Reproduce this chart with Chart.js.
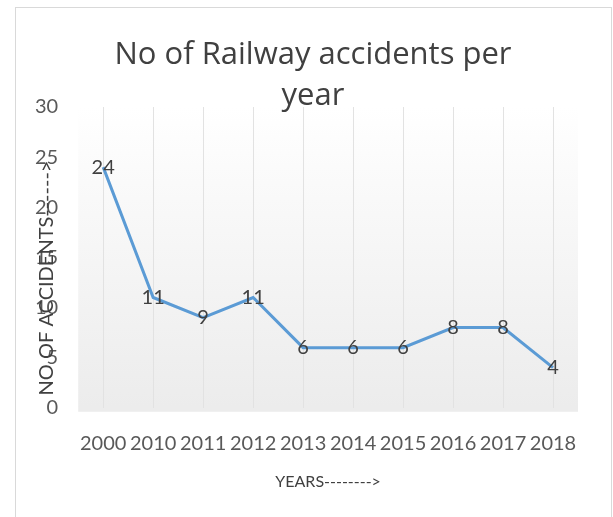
<!DOCTYPE html>
<html>
<head>
<meta charset="utf-8">
<script src="https://cdn.jsdelivr.net/npm/chart.js@4.4.1/dist/chart.umd.min.js"></script>
<style>
  html, body { margin: 0; padding: 0; background: #ffffff; }
  #wrap { width: 613px; height: 517px; }
</style>
</head>
<body>
<div id="wrap"><canvas id="accChart" width="613" height="517"></canvas></div>
<script>
// chart data
const years = ['2000', '2010', '2011', '2012', '2013', '2014', '2015', '2016', '2017', '2018'];
const accidents = [24, 11, 9, 11, 6, 6, 6, 8, 8, 4];
const yMin = 0;
const yMax = 30;
const yStep = 5;
const titleLines = ['No of Railway accidents per', 'year'];

const textColor = '#404040';
const fontFamily = 'Lato, "Open Sans", sans-serif';
const titleFont = '"Open Sans", Lato, sans-serif';

// plot background gradient + outer frame
const backdrop = {
    id: 'backdrop',
    beforeDraw(chart) {
        const { ctx, chartArea: a } = chart;
        ctx.save();
        ctx.fillStyle = '#ffffff';
        ctx.fillRect(0, 0, chart.width, chart.height);
        const g = ctx.createLinearGradient(0, a.top, 0, a.bottom);
        g.addColorStop(0, 'rgba(255,255,255,1)');
        g.addColorStop(0.25, 'rgba(250,250,250,1)');
        g.addColorStop(1, 'rgba(236,236,236,1)');
        ctx.fillStyle = g;
        ctx.fillRect(a.left, a.top, a.right - a.left, a.bottom - a.top + 4);
        ctx.strokeStyle = '#d9d9d9';
        ctx.lineWidth = 1;
        ctx.strokeRect(15.5, 7.5, 596, 530);
        ctx.restore();
    }
};

// title, value labels on each point, and the y axis title
const overlayText = {
    id: 'overlayText',
    afterDatasetsDraw(chart) {
        const { ctx } = chart;
        const meta = chart.getDatasetMeta(0);
        ctx.save();
        ctx.fillStyle = textColor;
        ctx.textAlign = 'center';
        ctx.textBaseline = 'middle';

        ctx.font = '31px ' + titleFont;
        ctx.fillText(titleLines[0], 313, 55);
        ctx.fillText(titleLines[1], 313, 96);

        ctx.font = '20px ' + fontFamily;
        meta.data.forEach((pt, i) => {
            ctx.fillText(String(accidents[i]), pt.x, pt.y);
        });

        // y axis title (drawn over the tick labels like in the original)
        ctx.translate(47, 278);
        ctx.rotate(-Math.PI / 2);
        ctx.font = '20px ' + fontFamily;
        ctx.fillText('NO OF ACCIDENTS------>', 0, 0);
        ctx.restore();
    }
};

new Chart(document.getElementById('accChart'), {
    type: 'line',
    data: {
        labels: years,
        datasets: [{
            data: accidents,
            borderColor: '#5b9bd5',
            borderWidth: 3,
            pointRadius: 0,
            tension: 0,
            fill: false
        }]
    },
    options: {
        responsive: false,
        animation: false,
        layout: { padding: { left: 15, right: 35, top: 107, bottom: 26 } },
        plugins: {
            legend: { display: false },
            tooltip: { enabled: false },
            title: { display: false }
        },
        scales: {
            x: {
                offset: true,
                grid: { display: true, color: '#e2e2e2', drawTicks: false },
                border: { display: false },
                ticks: {
                    color: '#595959',
                    font: { family: fontFamily, size: 20 },
                    padding: 24,
                    maxRotation: 0,
                    minRotation: 0,
                    autoSkip: false
                },
                title: {
                    display: true,
                    text: 'YEARS-------->',
                    color: textColor,
                    font: { family: fontFamily, size: 16 },
                    padding: { top: -8, bottom: 0 }
                }
            },
            y: {
                min: yMin,
                max: yMax,
                grid: { display: false, drawTicks: false },
                border: { display: false },
                ticks: {
                    stepSize: yStep,
                    color: '#595959',
                    font: { family: fontFamily, size: 20 },
                    padding: 20
                }
            }
        }
    },
    plugins: [backdrop, overlayText]
});
</script>
</body>
</html>
